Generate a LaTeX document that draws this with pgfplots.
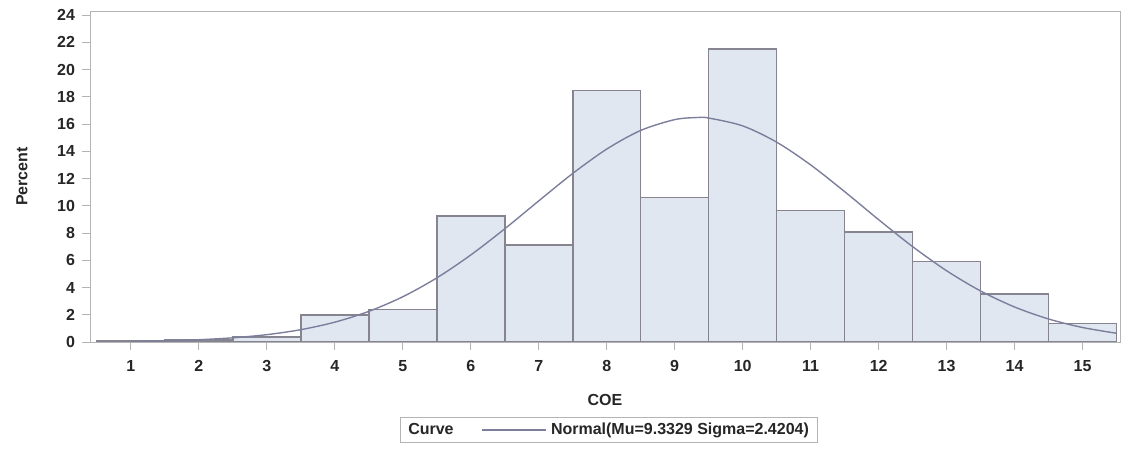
\documentclass[border=0pt]{standalone}
\usepackage{pgfplots}
\pgfplotsset{compat=1.18}
\usepackage{fontspec}
\setmainfont{Liberation Sans}
\definecolor{barfill}{HTML}{E1E7F1}
\definecolor{baredge}{HTML}{86848E}
\definecolor{curvec}{HTML}{7C7F9C}
\definecolor{axisc}{HTML}{B4B4B4}
\pgfplotsset{longline/.style={legend image code/.code={\draw[##1] (0pt,0pt) -- (32pt,0pt);}}}
\begin{document}
\begin{tikzpicture}
\begin{axis}[
  at={(0,0)}, anchor=south west,
  scale only axis, width=515pt, height=165.5pt,
  xmin=0.4, xmax=15.55, ymin=0, ymax=24.3,
  xtick={1,...,15}, ytick={0,2,...,24},
  tick align=outside, tick pos=left,
  major tick length=4pt,
  axis line style={axisc}, every tick/.style={axisc},
  tick label style={font=\fontsize{8}{9}\selectfont\bfseries, text=black!85},
  xticklabel style={yshift=-1.5pt},
  /pgf/number format/assume math mode=true,
  xlabel={COE}, ylabel={Percent},
  label style={font=\fontsize{8}{9}\selectfont\bfseries, text=black!85},
  xlabel style={at={(axis description cs:0.5,-0.175)}, anchor=center},
  ylabel style={at={(axis description cs:-0.066,0.5)}, anchor=center},
  legend columns=2,
  legend style={at={(axis description cs:0.5035,-0.266)}, anchor=center,
    draw=axisc, font=\fontsize{8}{9}\selectfont\bfseries, text=black!85,
    inner ysep=0.5pt, inner xsep=2pt,
    /tikz/every even column/.append style={column sep=12pt}},
  legend cell align=left,
]
\addplot[ybar interval, fill=barfill, draw=baredge, line width=0.8pt, forget plot] coordinates {
(0.5,0.1) (1.5,0.15) (2.5,0.35) (3.5,2.0) (4.5,2.4) (5.5,9.25) (6.5,7.1)
(7.5,18.45) (8.5,10.6) (9.5,21.5) (10.5,9.65) (11.5,8.07) (12.5,5.9)
(13.5,3.53) (14.5,1.37) (15.5,1.37)
};
\addlegendimage{empty legend}
\addlegendentry{Curve}
\addplot[smooth, curvec, line width=0.7pt, longline] coordinates {
(1,0.044) (1.5,0.088) (2,0.167) (2.5,0.307) (3,0.538) (3.5,0.904) (4,1.455)
(4.5,2.245) (5,3.319) (5.5,4.703) (6,6.386) (6.5,8.308) (7,10.358) (7.5,12.372)
(8,14.161) (8.5,15.532) (9,16.325) (9.3329,16.48) (9.5,16.441) (10,15.866)
(10.5,14.671) (11,13.00) (11.5,11.038) (12,8.980) (12.5,7.000) (13,5.229)
(13.5,3.744) (14,2.568) (14.5,1.688) (15,1.063) (15.5,0.641)
};
\addlegendentry{Normal(Mu=9.3329 Sigma=2.4204)}
\end{axis}
\path[use as bounding box] (-45pt,-53.5pt) rectangle (517pt,171pt);
\end{tikzpicture}
\end{document}
